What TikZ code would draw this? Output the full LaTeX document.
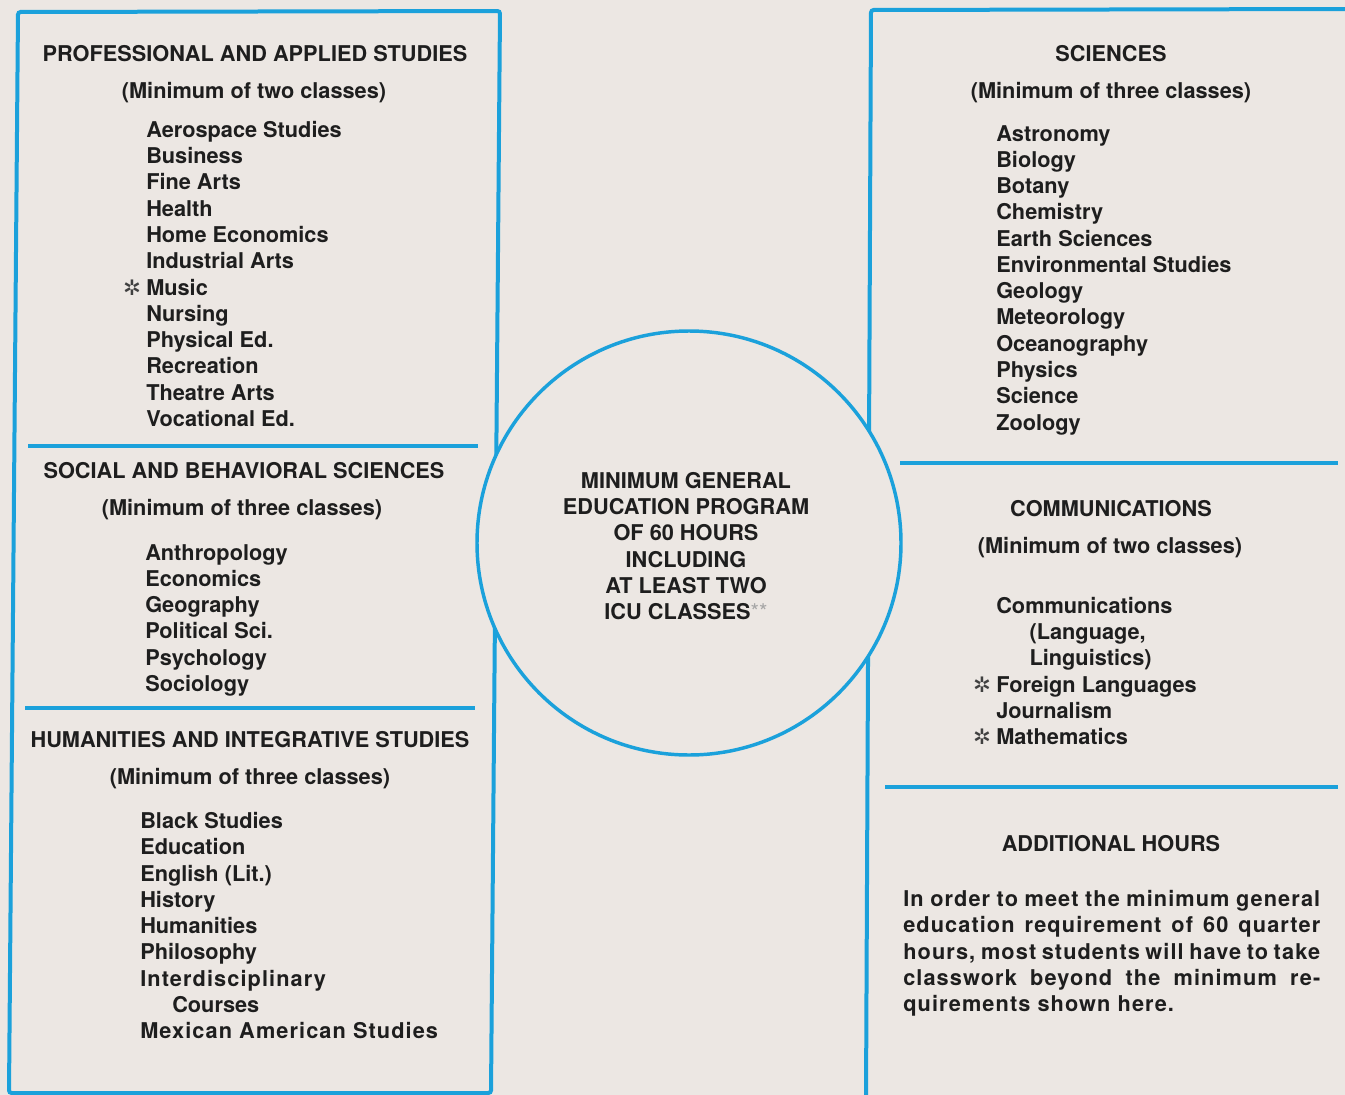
\documentclass[tikz,border=0pt]{standalone}
\usepackage{fontspec}
\setmainfont{TeX Gyre Heros}
\newfontfamily\spaced{TeX Gyre Heros}[LetterSpace=5]
\newfontfamily\symb{DejaVu Sans}

\definecolor{icublue}{HTML}{1BA1DB}
\definecolor{paper}{HTML}{ECE7E3}
\definecolor{ink}{HTML}{1E1E1E}

% asterisk in front of a class
\newcommand{\req}{\llap{{\symb\mdseries\color{ink!85}\fontsize{16}{16}\selectfont ✲}\hspace{4pt}}}

\begin{document}
\begin{tikzpicture}[x=0.75pt, y=-0.75pt,
    frame/.style={draw=icublue, line width=3pt, rounded corners=2pt},
    rule/.style={draw=icublue, line width=2.3pt},
    title/.style={font=\bfseries\fontsize{16.3}{19.7}\selectfont, text=ink, inner sep=0pt, anchor=base},
    classes/.style={font=\bfseries\fontsize{16.3}{19.7}\selectfont, text=ink, inner sep=0pt, anchor=north west, align=left},
    hub/.style={circle, draw=icublue, fill=paper, line width=2.6pt, minimum size=318pt, inner sep=0pt}]

    % 1. background of the page
    \fill[paper] (0,0) rectangle (1345,1095);
    \clip (0,0) rectangle (1345,1095);

    % 2. the two frames and the rules between the groups
    \draw[frame] (18,12) -- (500,11) -- (491,1093) -- (9,1093) -- cycle;
    \draw[frame] (1350,9) -- (871,10) -- (866,1100);

    \draw[rule] (28,446) -- (478,446);
    \draw[rule] (25,708) -- (475,708);
    \draw[rule] (900,463) -- (1338,463);
    \draw[rule] (885,787) -- (1338,787);

    % 3. the circle in the middle
    \node[hub] (core) at (689,543) {};
    \node[classes, anchor=center, align=center, font=\bfseries\fontsize{16.3}{19.65}\selectfont] (core-text) at (686,546)
        {MINIMUM GENERAL\\EDUCATION PROGRAM\\OF 60 HOURS\\INCLUDING\\AT LEAST TWO\\ICU CLASSES{\mdseries\color{gray!70}**}};

    % 4. left side
    \node[title] (pas-head) at (255,62) {PROFESSIONAL AND APPLIED STUDIES};
    \node[title] (pas-min) at (254,99) {(Minimum of two classes)};
    \node[classes] (pas-list) at (146,121) {Aerospace Studies\\Business\\Fine Arts\\Health\\Home Economics\\Industrial Arts\\\req Music\\Nursing\\Physical Ed.\\Recreation\\Theatre Arts\\Vocational Ed.};

    \node[title] (sbs-head) at (244,478) {SOCIAL AND BEHAVIORAL SCIENCES};
    \node[title] (sbs-min) at (242,515) {(Minimum of three classes)};
    \node[classes] (sbs-list) at (145,544) {Anthropology\\Economics\\Geography\\Political Sci.\\Psychology\\Sociology};

    \node[title] (his-head) at (250,747) {HUMANITIES AND INTEGRATIVE STUDIES};
    \node[title] (his-min) at (250,784) {(Minimum of three classes)};
    \node[classes] (his-list) at (140,812) {Black Studies\\Education\\English (Lit.)\\History\\Humanities\\Philosophy\\{\spaced Interdisciplinary}\\\hspace*{24pt}Courses\\{\spaced Mexican American Studies}};

    % 5. right side
    \node[title] (sci-head) at (1111,62) {SCIENCES};
    \node[title] (sci-min) at (1111,99) {(Minimum of three classes)};
    \node[classes] (sci-list) at (996,125) {Astronomy\\Biology\\Botany\\Chemistry\\Earth Sciences\\Environmental Studies\\Geology\\Meteorology\\Oceanography\\Physics\\Science\\Zoology};

    \node[title] (com-head) at (1111,516) {COMMUNICATIONS};
    \node[title] (com-min) at (1110,553) {(Minimum of two classes)};
    \node[classes] (com-list) at (996,597) {Communications\\\hspace*{25pt}(Language,\\\hspace*{25pt}Linguistics)\\\req Foreign Languages\\Journalism\\\req Mathematics};

    \node[title] (add-head) at (1111,851) {ADDITIONAL HOURS};
    \node[classes, text width=312.75pt, align=justify, font=\spaced\bfseries\fontsize{16.3}{19.7}\selectfont] (add-text) at (903,890)
        {In order to meet the minimum general\linebreak education requirement of 60 quarter\linebreak hours, most students will have to take\linebreak classwork beyond the minimum re-\linebreak quirements shown here.};

\end{tikzpicture}
\end{document}
